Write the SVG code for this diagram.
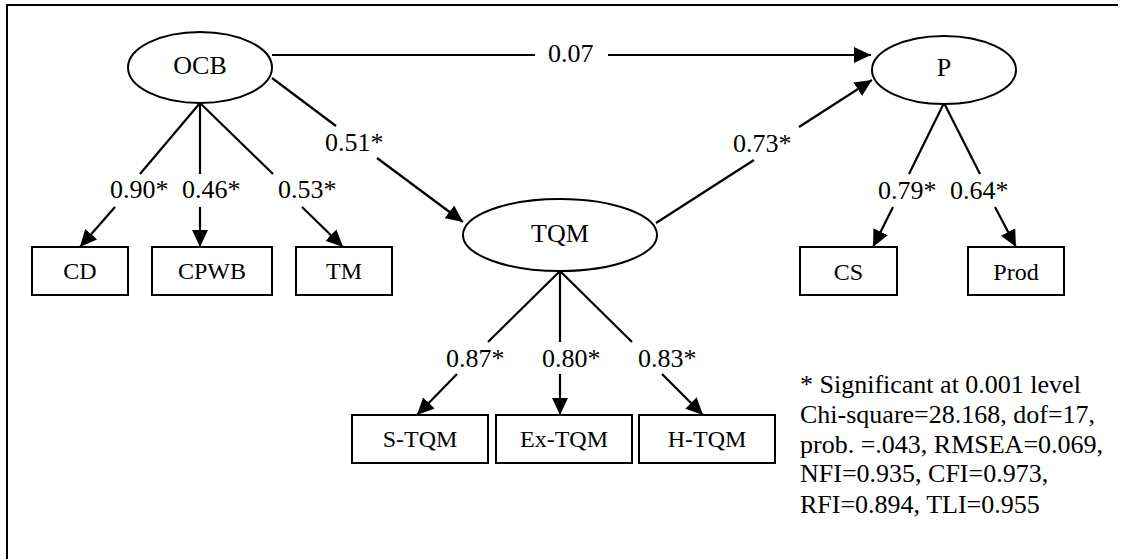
<svg xmlns="http://www.w3.org/2000/svg" width="1127" height="559" viewBox="0 0 1127 559">
  <defs>
    <marker id="arrow" markerUnits="userSpaceOnUse" markerWidth="17" markerHeight="16" refX="17" refY="8" orient="auto">
      <path d="M0,0 L17,8 L0,16 Z" fill="#000"/>
    </marker>
  </defs>
  <style>
    .frame { stroke: #000; stroke-width: 2; fill: none; }
    .latent { fill: #fff; stroke: #000; stroke-width: 2; }
    .observed { fill: #fff; stroke: #000; stroke-width: 2; }
    .edge { stroke: #000; stroke-width: 2.2; fill: none; }
    .tip { marker-end: url(#arrow); }
    .lbl { font-family: "Liberation Serif", "Times New Roman", serif; font-size: 26px; fill: #000; }
    .box { font-family: "Liberation Serif", "Times New Roman", serif; font-size: 24px; fill: #000; text-anchor: middle; }
    .ell { font-family: "Liberation Serif", "Times New Roman", serif; font-size: 26px; fill: #000; text-anchor: middle; }
    .coef { font-family: "Liberation Serif", "Times New Roman", serif; font-size: 26px; fill: #000; }
  </style>

  <!-- outer frame (top and left edges) -->
  <path class="frame" d="M7,559 L7,5 L1118,5"/>

  <!-- connectors: each path is broken where its coefficient sits -->
  <g id="connectors">
    <!-- OCB -> P -->
    <line class="edge" x1="272" y1="55" x2="535" y2="55"/>
    <line class="edge tip" x1="608" y1="55" x2="871" y2="55"/>
    <text class="coef" x="548" y="62">0.07</text>

    <!-- OCB -> TQM -->
    <line class="edge" x1="272" y1="78" x2="336" y2="126"/>
    <line class="edge tip" x1="377" y1="158" x2="463" y2="222"/>
    <text class="coef" x="325" y="151">0.51*</text>

    <!-- TQM -> P -->
    <line class="edge" x1="656" y1="223" x2="754" y2="160"/>
    <line class="edge tip" x1="799" y1="127" x2="872" y2="80"/>
    <text class="coef" x="733" y="152">0.73*</text>

    <!-- OCB indicators -->
    <line class="edge" x1="200" y1="103" x2="140" y2="174"/>
    <line class="edge tip" x1="115" y1="207" x2="80" y2="247"/>
    <text class="coef" x="110" y="198">0.90*</text>

    <line class="edge" x1="200" y1="103" x2="200" y2="174"/>
    <line class="edge tip" x1="200" y1="207" x2="200" y2="247"/>
    <text class="coef" x="182" y="198">0.46*</text>

    <line class="edge" x1="200" y1="103" x2="273" y2="174"/>
    <line class="edge tip" x1="302" y1="207" x2="343" y2="247"/>
    <text class="coef" x="278" y="198">0.53*</text>

    <!-- P indicators -->
    <line class="edge" x1="944" y1="103" x2="909" y2="174"/>
    <line class="edge tip" x1="893" y1="207" x2="873" y2="247"/>
    <text class="coef" x="878" y="199">0.79*</text>

    <line class="edge" x1="944" y1="103" x2="980" y2="174"/>
    <line class="edge tip" x1="995" y1="207" x2="1016" y2="247"/>
    <text class="coef" x="950" y="199">0.64*</text>

    <!-- TQM indicators -->
    <line class="edge" x1="560" y1="271" x2="488" y2="342"/>
    <line class="edge tip" x1="457" y1="374" x2="417" y2="415"/>
    <text class="coef" x="446" y="367">0.87*</text>

    <line class="edge" x1="560" y1="271" x2="560" y2="342"/>
    <line class="edge tip" x1="560" y1="374" x2="560" y2="415"/>
    <text class="coef" x="542" y="367">0.80*</text>

    <line class="edge" x1="560" y1="271" x2="632" y2="342"/>
    <line class="edge tip" x1="662" y1="374" x2="703" y2="415"/>
    <text class="coef" x="638" y="367">0.83*</text>
  </g>

  <!-- latent constructs -->
  <g id="node-OCB">
    <ellipse class="latent" cx="200" cy="67.5" rx="72" ry="35.5"/>
    <text class="ell" x="200" y="74">OCB</text>
  </g>
  <g id="node-TQM">
    <ellipse class="latent" cx="560" cy="235" rx="97" ry="36"/>
    <text class="ell" x="560" y="242">TQM</text>
  </g>
  <g id="node-P">
    <ellipse class="latent" cx="944" cy="70" rx="72" ry="34"/>
    <text class="ell" x="944" y="76">P</text>
  </g>

  <!-- observed indicators -->
  <g id="node-CD">
    <rect class="observed" x="32" y="247" width="96" height="48"/>
    <text class="box" x="80" y="279">CD</text>
  </g>
  <g id="node-CPWB">
    <rect class="observed" x="152" y="247" width="120" height="48"/>
    <text class="box" x="212" y="279">CPWB</text>
  </g>
  <g id="node-TM">
    <rect class="observed" x="296" y="247" width="96" height="48"/>
    <text class="box" x="344" y="279">TM</text>
  </g>
  <g id="node-CS">
    <rect class="observed" x="800" y="247" width="97" height="48"/>
    <text class="box" x="848.5" y="280">CS</text>
  </g>
  <g id="node-Prod">
    <rect class="observed" x="968" y="247" width="96" height="48"/>
    <text class="box" x="1016" y="280">Prod</text>
  </g>
  <g id="node-S-TQM">
    <rect class="observed" x="352" y="415" width="136" height="48"/>
    <text class="box" x="420" y="447">S-TQM</text>
  </g>
  <g id="node-Ex-TQM">
    <rect class="observed" x="496" y="415" width="136" height="48"/>
    <text class="box" x="564" y="447">Ex-TQM</text>
  </g>
  <g id="node-H-TQM">
    <rect class="observed" x="639" y="415" width="136" height="48"/>
    <text class="box" x="707" y="447">H-TQM</text>
  </g>

  <!-- fit statistics -->
  <g id="legend">
    <text class="lbl" x="800" y="393">* Significant at 0.001 level</text>
    <text class="lbl" x="800" y="423">Chi-square=28.168, dof=17,</text>
    <text class="lbl" x="800" y="453">prob. =.043, RMSEA=0.069,</text>
    <text class="lbl" x="800" y="482">NFI=0.935, CFI=0.973,</text>
    <text class="lbl" x="800" y="513">RFI=0.894, TLI=0.955</text>
  </g>
</svg>
